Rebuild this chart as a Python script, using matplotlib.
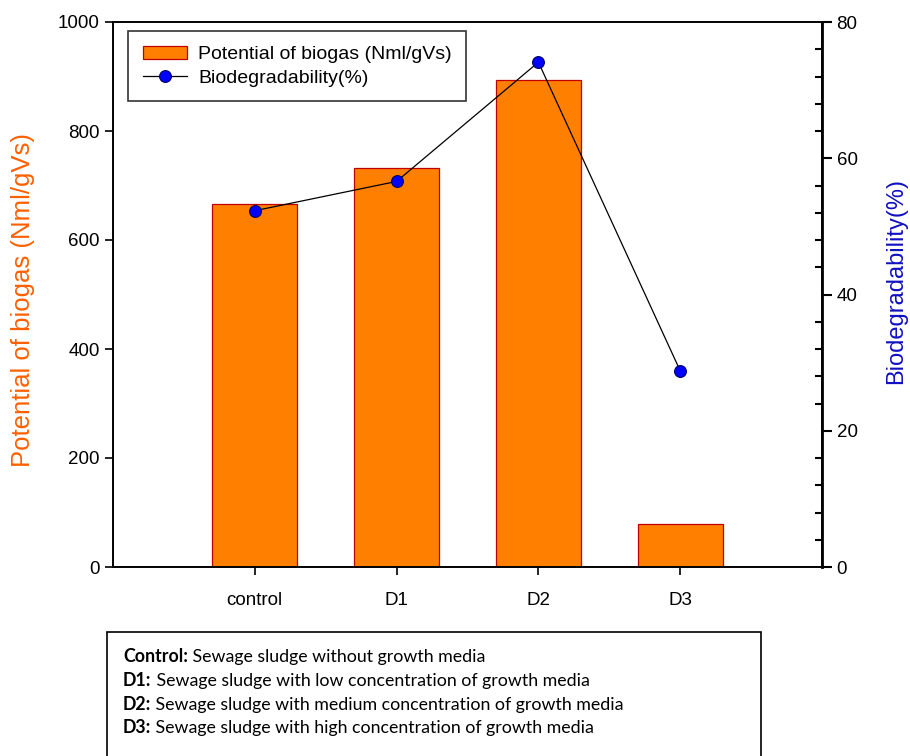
import matplotlib.pyplot as plt
import numpy as np
from matplotlib.patches import Rectangle

categories = ['control', 'D1', 'D2', 'D3']
biogas = [666, 732, 894, 79]
biodeg = [52.3, 56.6, 74.1, 28.8]

caption = [
    ('Control:', ' Sewage sludge without growth media'),
    ('D1:', ' Sewage sludge with low concentration of growth media'),
    ('D2:', ' Sewage sludge with medium concentration of growth media'),
    ('D3:', ' Sewage sludge with high concentration of growth media'),
]


def main():
    plt.rcParams['font.family'] = ['Liberation Sans', 'DejaVu Sans']
    fig = plt.figure(figsize=(9.1, 7.56), dpi=100)
    W, H = 910, 756
    ax = fig.add_axes([113 / W, 1 - 567 / H, (822 - 113) / W, (567 - 22) / H])
    ax2 = ax.twinx()

    x = np.arange(len(categories))
    bars = ax.bar(x, biogas, width=0.6, color='#ff8000', edgecolor='#c00000',
                  linewidth=0.9, label='Potential of biogas (Nml/gVs)', zorder=2)
    ln, = ax2.plot(x, biodeg, color='black', linewidth=0.9, marker='o',
                   markersize=8.5, markerfacecolor='#0000ff', markeredgecolor='#000060',
                   markeredgewidth=0.8, label='Biodegradability(%)', zorder=3)

    ax.set_xlim(-1, 4)
    ax.set_ylim(0, 1000)
    ax2.set_ylim(0, 80)
    ax.set_xticks(x)
    ax.set_xticklabels(categories)
    ax.set_yticks(np.arange(0, 1001, 200))
    ax2.set_yticks(np.arange(0, 81, 20))
    ax2.set_yticks(np.arange(0, 81, 4), minor=True)

    for a in (ax, ax2):
        for s in a.spines.values():
            s.set_linewidth(1.2)
    ax2.spines['right'].set_linewidth(2.0)
    ax.tick_params(axis='both', labelsize=13.5, length=6, width=1.2, direction='out')
    ax.tick_params(axis='x', pad=12)
    ax2.tick_params(axis='y', which='major', labelsize=13.5, length=7, width=1.5, direction='out')
    ax2.tick_params(axis='y', which='minor', length=5, width=1.5, direction='in')

    ax.set_ylabel('Potential of biogas (Nml/gVs)', color='#ff6000', fontsize=18.5)
    ax.yaxis.set_label_coords(-0.11, 0.49)
    ax2.set_ylabel('Biodegradability(%)', color='#1010c0', fontsize=17, rotation=90)
    ax2.yaxis.set_label_coords(1.089, 0.525)

    leg = ax.legend([bars, ln], [bars.get_label(), ln.get_label()],
                    loc='upper left', bbox_to_anchor=(15 / 709, 1 - 9 / 545),
                    borderaxespad=0, fontsize=14, frameon=True, fancybox=False,
                    edgecolor='black', handlelength=2.3, handletextpad=0.55,
                    borderpad=0.75, labelspacing=0.3)
    leg.get_frame().set_linewidth(1.2)

    # caption box below the chart
    fig.patches.append(Rectangle((107 / W, -0.05), (761 - 107) / W, 1 - 632 / H + 0.05,
                                 transform=fig.transFigure, fill=False,
                                 edgecolor='black', linewidth=1.2))
    y0 = 662
    for i, (bold, rest) in enumerate(caption):
        yy = 1 - (y0 + i * 23.8) / H
        t = fig.text(123 / W, yy, bold, fontsize=12.8, fontweight='bold',
                     family=['Lato', 'DejaVu Sans'], va='baseline')
        fig.canvas.draw()
        bb = t.get_window_extent()
        fig.text(bb.x1 / W, yy, rest, fontsize=12.8, family=['Lato', 'DejaVu Sans'],
                 va='baseline')

    fig.savefig('out.png', dpi=100)


if __name__ == '__main__':
    main()
